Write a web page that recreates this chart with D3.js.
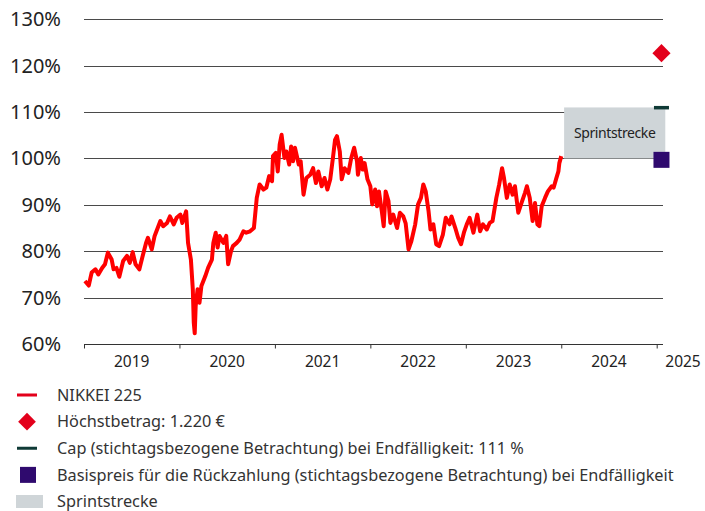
<!DOCTYPE html>
<html>
<head>
<meta charset="utf-8">
<script src="https://cdn.jsdelivr.net/npm/d3@7"></script>
<style>
  body { margin: 0; background: #fff; }
  svg text { font-family: "Noto Sans", sans-serif; fill: #222; }
</style>
</head>
<body>
<svg id="chart" width="705" height="511"></svg>
<script>
// NIKKEI 225 relative to the start level (in %), time as decimal years
var dates = [
  2019.01, 2019.05, 2019.08, 2019.12, 2019.15, 2019.19, 2019.22, 2019.25, 2019.29, 2019.31,
  2019.34, 2019.37, 2019.41, 2019.45, 2019.48, 2019.51, 2019.54, 2019.58, 2019.61, 2019.65,
  2019.67, 2019.71, 2019.74, 2019.80, 2019.83, 2019.87, 2019.90, 2019.94, 2019.97, 2020.01,
  2020.03, 2020.07, 2020.09, 2020.12, 2020.14, 2020.15, 2020.16, 2020.17, 2020.19, 2020.21,
  2020.23, 2020.27, 2020.30, 2020.34, 2020.355, 2020.38, 2020.40, 2020.42, 2020.46, 2020.49,
  2020.51, 2020.54, 2020.56, 2020.60, 2020.63, 2020.67, 2020.70, 2020.74, 2020.78, 2020.81,
  2020.84, 2020.88, 2020.91, 2020.94, 2020.97, 2020.98, 2021.01, 2021.03, 2021.05, 2021.07,
  2021.10, 2021.12, 2021.15, 2021.17, 2021.19, 2021.21, 2021.25, 2021.27, 2021.30, 2021.33,
  2021.37, 2021.40, 2021.43, 2021.455, 2021.49, 2021.52, 2021.55, 2021.58, 2021.61, 2021.63,
  2021.65, 2021.68, 2021.70, 2021.73, 2021.77, 2021.80, 2021.83, 2021.86, 2021.87, 2021.90,
  2021.92, 2021.94, 2021.97, 2022.00, 2022.02, 2022.05, 2022.07, 2022.09, 2022.12, 2022.14,
  2022.16, 2022.19, 2022.21, 2022.24, 2022.28, 2022.31, 2022.345, 2022.37, 2022.40, 2022.43,
  2022.47, 2022.50, 2022.53, 2022.555, 2022.58, 2022.61, 2022.63, 2022.66, 2022.69, 2022.72,
  2022.76, 2022.79, 2022.83, 2022.85, 2022.89, 2022.92, 2022.95, 2022.98, 2023.01, 2023.04,
  2023.08, 2023.12, 2023.15, 2023.18, 2023.22, 2023.25, 2023.28, 2023.32, 2023.35, 2023.38,
  2023.40, 2023.43, 2023.46, 2023.49, 2023.515, 2023.55, 2023.59, 2023.62, 2023.64, 2023.67,
  2023.70, 2023.725, 2023.75, 2023.77, 2023.795, 2023.83, 2023.86, 2023.90, 2023.92, 2023.945,
  2023.97, 2023.98, 2024.00
];
var nikkei = [
  73.6, 72.6, 75.4, 76.1, 75.0, 76.4, 77.2, 79.7, 78.2, 76.1,
  76.4, 74.5, 77.9, 79.0, 77.5, 79.8, 77.2, 76.1, 78.6, 81.8,
  82.9, 80.4, 83.3, 86.5, 85.4, 86.1, 87.5, 85.8, 87.2, 87.9,
  86.1, 88.6, 81.8, 78.2, 71.8, 64.6, 62.3, 68.2, 71.8, 68.9,
  72.5, 74.6, 76.4, 78.2, 81.8, 84.0, 80.8, 83.3, 81.8, 83.3,
  77.2, 80.0, 81.1, 81.8, 82.5, 84.3, 84.0, 84.3, 85.0, 91.5,
  94.4, 93.3, 93.7, 96.2, 95.1, 100.5, 101.2, 97.2, 103.0, 105.1,
  100.1, 101.5, 98.7, 102.6, 99.4, 102.3, 98.7, 99.4, 92.2, 95.8,
  96.5, 97.9, 94.7, 97.2, 94.0, 95.8, 93.3, 95.5, 100.5, 104.0,
  104.8, 101.5, 95.5, 97.9, 96.9, 100.1, 102.3, 99.4, 96.5, 100.1,
  97.6, 99.0, 95.5, 94.0, 90.1, 93.3, 89.7, 92.9, 88.6, 85.4,
  92.9, 90.8, 86.1, 87.9, 85.0, 88.3, 87.5, 86.0, 80.4, 82.2,
  85.8, 90.1, 91.5, 94.4, 92.9, 88.6, 84.7, 85.8, 81.5, 81.1,
  83.6, 87.2, 85.8, 87.5, 85.0, 82.9, 81.5, 84.0, 85.8, 87.2,
  84.0, 87.9, 84.3, 85.8, 84.7, 86.1, 86.5, 91.5, 94.4, 97.9,
  95.8, 91.5, 94.4, 92.2, 94.0, 88.3, 90.8, 92.6, 94.0, 91.5,
  86.5, 90.4, 85.8, 85.4, 89.7, 91.5, 92.9, 94.0, 93.7, 95.5,
  97.2, 99.0, 100.5
];

var yTicks = [60, 70, 80, 90, 100, 110, 120, 130];
var years = [2019, 2020, 2021, 2022, 2023, 2024, 2025];

var sprintStart = 2024.03, sprintEnd = 2025.09;
var sprintLow = 100, sprintHigh = 111;
var maturity = 2025.05;
var hoechstbetrag = 122.7;
var cap = 111;
var basispreis = 99.7;

var legendLabels = [
  "NIKKEI 225",
  "Höchstbetrag: 1.220 €",
  "Cap (stichtagsbezogene Betrachtung) bei Endfälligkeit: 111 %",
  "Basispreis für die Rückzahlung (stichtagsbezogene Betrachtung) bei Endfälligkeit",
  "Sprintstrecke"
];

var colRed = "#ff0000", colDiamond = "#e3001b", colCap = "#0f3a36",
    colBasis = "#2f0a6e", colSprint = "#cfd5d8";

var svg = d3.select("#chart");
var x = d3.scaleLinear().domain([2019, 2025]).range([84, 656.7]);
var y = d3.scaleLinear().domain([60, 130]).range([344, 19.3]);
var gridEnd = 663;

// gridlines (60% doubles as the x axis line)
svg.append("g").selectAll("line")
  .data(yTicks)
  .enter().append("line")
  .attr("x1", 84).attr("x2", gridEnd)
  .attr("y1", function(d) { return Math.round(y(d)) + 0.5; })
  .attr("y2", function(d) { return Math.round(y(d)) + 0.5; })
  .attr("stroke", function(d) { return d == 60 ? "#333" : "#4a4a4a"; })
  .attr("stroke-width", 1);

// y labels
svg.append("g").selectAll("text")
  .data(yTicks)
  .enter().append("text")
  .attr("x", 61).attr("y", function(d) { return y(d); })
  .attr("dy", "0.35em")
  .attr("text-anchor", "end")
  .style("font-size", "20px")
  .text(function(d) { return d + "%"; });

// x ticks
var xAxis = d3.axisBottom(x).tickValues(years).tickFormat("").tickSize(4).tickSizeOuter(0);
var gx = svg.append("g").attr("transform", "translate(0," + (Math.round(y(60)) + 0.5) + ")").call(xAxis);
gx.select(".domain").remove();
gx.selectAll(".tick line").attr("stroke", "#333");

// x labels, mid year
svg.append("g").selectAll("text")
  .data(years)
  .enter().append("text")
  .attr("x", function(d) { return Math.min(x(d + 0.5), 683); })
  .attr("y", 367)
  .attr("text-anchor", "middle")
  .style("font-size", "15.5px")
  .text(function(d) { return d; });

// sprint area
svg.append("rect")
  .attr("x", x(sprintStart)).attr("y", y(sprintHigh))
  .attr("width", x(sprintEnd) - x(sprintStart))
  .attr("height", y(sprintLow) - y(sprintHigh))
  .attr("fill", colSprint);
svg.append("text")
  .attr("x", (x(sprintStart) + x(sprintEnd)) / 2)
  .attr("y", (y(sprintLow) + y(sprintHigh)) / 2)
  .attr("dy", "0.35em")
  .attr("text-anchor", "middle")
  .style("font-size", "14px")
  .style("letter-spacing", "-0.4px")
  .text("Sprintstrecke");

// line
var series = dates.map(function(d, i) { return { t: d, v: nikkei[i] }; });
var line = d3.line()
  .x(function(d) { return x(d.t); })
  .y(function(d) { return y(d.v); });
svg.append("path")
  .datum(series)
  .attr("d", line)
  .attr("fill", "none")
  .attr("stroke", colRed)
  .attr("stroke-width", 4)
  .attr("stroke-linejoin", "round");

// markers at maturity
svg.append("path")
  .attr("transform", "translate(" + x(maturity) + "," + y(hoechstbetrag) + ")")
  .attr("d", d3.symbol().type(d3.symbolDiamond2).size(210))
  .attr("fill", colDiamond);
svg.append("rect")
  .attr("x", x(maturity) - 7.5).attr("y", y(cap) - 1.5)
  .attr("width", 15).attr("height", 3.5)
  .attr("fill", colCap);
svg.append("rect")
  .attr("x", x(maturity) - 8).attr("y", y(basispreis) - 8)
  .attr("width", 16).attr("height", 16)
  .attr("fill", colBasis);

// legend
var ly = d3.scaleLinear().domain([0, 4]).range([395, 501.5]);
var leg = svg.append("g");
leg.selectAll("text")
  .data(legendLabels)
  .enter().append("text")
  .attr("x", 57)
  .attr("y", function(d, i) { return ly(i); })
  .attr("dy", "0.35em")
  .style("font-size", "16.3px")
  .style("fill", "#333")
  .text(function(d) { return d; });

leg.append("rect").attr("x", 17).attr("y", ly(0) - 1.5).attr("width", 20).attr("height", 3).attr("fill", colDiamond);
leg.append("path")
  .attr("transform", "translate(27," + ly(1) + ")")
  .attr("d", d3.symbol().type(d3.symbolDiamond2).size(200))
  .attr("fill", colDiamond);
leg.append("rect").attr("x", 17).attr("y", ly(2) - 1.5).attr("width", 20).attr("height", 3).attr("fill", colCap);
leg.append("rect").attr("x", 20).attr("y", ly(3) - 8).attr("width", 16).attr("height", 16).attr("fill", colBasis);
leg.append("rect").attr("x", 16).attr("y", ly(4) - 6.5).attr("width", 27).attr("height", 13).attr("fill", colSprint);
</script>
</body>
</html>
